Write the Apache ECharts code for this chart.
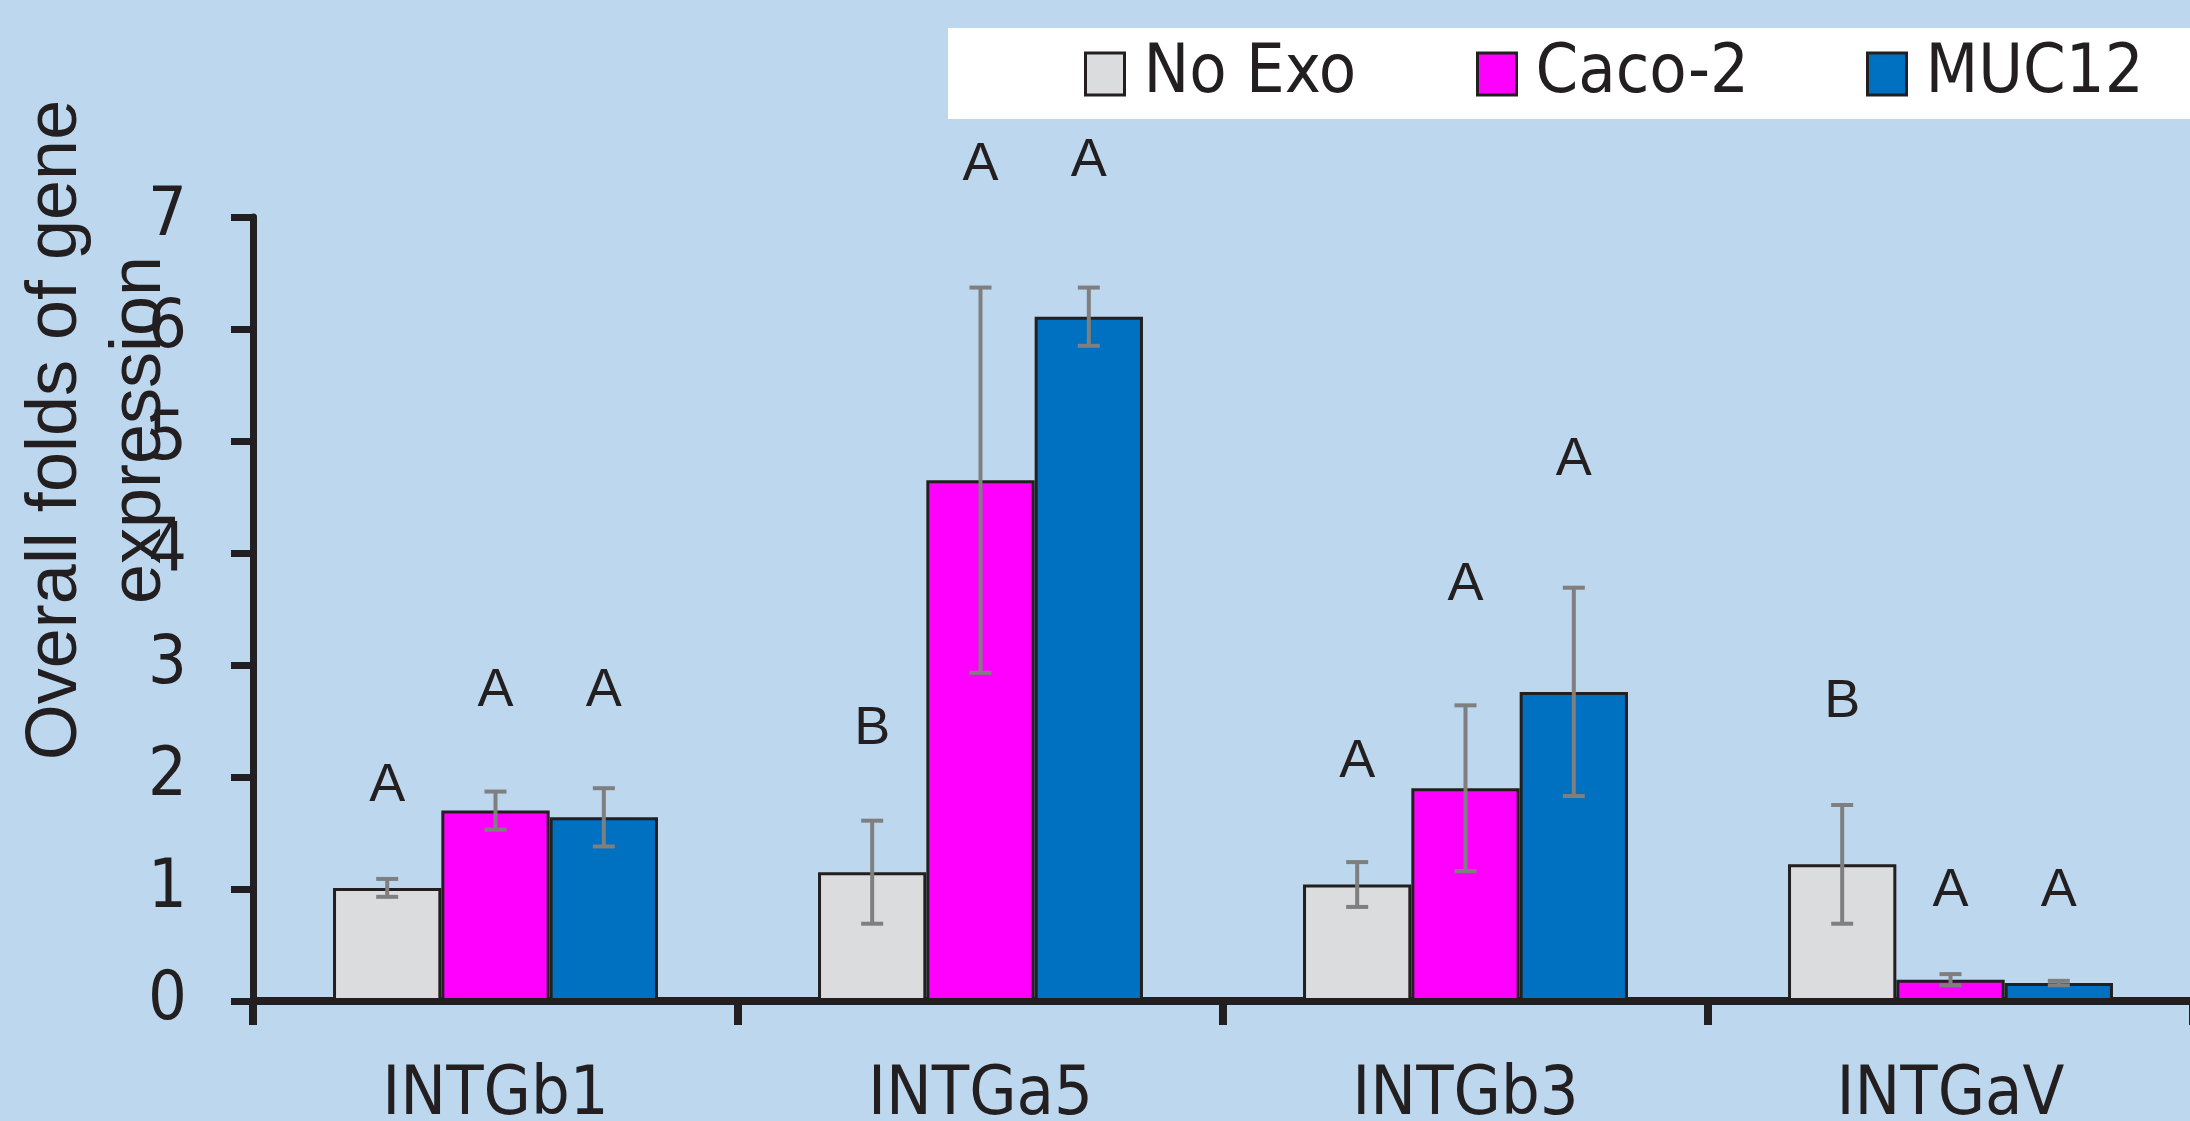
<!DOCTYPE html>
<html>
<head>
<meta charset="utf-8">
<script src="https://cdn.jsdelivr.net/npm/echarts@6/dist/echarts.min.js"></script>
<style>
html,body{margin:0;padding:0;background:#BDD7EE;}
#chart{width:2190px;height:1121px;}
</style>
</head>
<body>
<div id="chart"></div>
<script>
// ---- data ----
const categories = ['INTGb1', 'INTGa5', 'INTGb3', 'INTGaV'];
const seriesNames = ['No Exo', 'Caco-2', 'MUC12'];
const noExo = [1.01, 1.15, 1.04, 1.22];
const caco2 = [1.70, 4.65, 1.90, 0.19];
const muc12 = [1.64, 6.11, 2.76, 0.16];
const noExoErr = [0.08, 0.46, 0.20, 0.53];
const caco2Err = [0.17, 1.72, 0.74, 0.05];
const muc12Err = [0.26, 0.26, 0.93, 0.02];
const noExoLetters = ['A', 'B', 'A', 'B'];
const caco2Letters = ['A', 'A', 'A', 'A'];
const muc12Letters = ['A', 'A', 'A', 'A'];
const noExoLetterLevel = [1.92, 2.43, 2.13, 2.67];
const caco2LetterLevel = [2.77, 7.46, 3.71, 0.98];
const muc12LetterLevel = [2.77, 7.50, 4.83, 0.98];
const yTicks = [0, 1, 2, 3, 4, 5, 6, 7];

const values = [noExo, caco2, muc12];
const errs = [noExoErr, caco2Err, muc12Err];
const letters = [noExoLetters, caco2Letters, muc12Letters];
const levels = [noExoLetterLevel, caco2LetterLevel, muc12LetterLevel];
const colors = ['#DBDCDE', '#FF00FF', '#0070C0'];
const dark = '#231F20';
const narrow = '"Liberation Sans Narrow", "DejaVu Sans Condensed", "Liberation Sans", sans-serif';
const CAT_GAP = 0.33;

const chart = echarts.init(document.getElementById('chart'));

function makeRender(si) {
  return function (params, api) {
    const di = params.dataIndex;
    const cat = api.value(0);
    const mean = api.value(1);
    const err = api.value(2);
    const lvl = api.value(3);
    const band = api.size([1, 0])[0];
    const bw = band * (1 - CAT_GAP) / 3;
    const cx = api.coord([cat, 0])[0] + (si - 1) * bw;
    const yTop = api.coord([cat, mean + err])[1];
    const yBot = api.coord([cat, mean - err])[1];
    const yL = api.coord([cat, lvl])[1];
    const half = 11;
    const st = { stroke: '#7F7F7F', lineWidth: 4 };
    return {
      type: 'group',
      children: [
        { type: 'line', shape: { x1: cx, y1: yTop, x2: cx, y2: yBot }, style: st },
        { type: 'line', shape: { x1: cx - half, y1: yTop, x2: cx + half, y2: yTop }, style: st },
        { type: 'line', shape: { x1: cx - half, y1: yBot, x2: cx + half, y2: yBot }, style: st },
        { type: 'text', x: cx, y: yL, style: {
            text: letters[si][di], fill: dark, font: '54px "Liberation Sans", Arial, sans-serif',
            textAlign: 'center', textVerticalAlign: 'middle' } }
      ]
    };
  };
}

const barSeries = seriesNames.map((n, i) => ({
  name: n,
  type: 'bar',
  data: values[i],
  barGap: '0%',
  barCategoryGap: (CAT_GAP * 100) + '%',
  itemStyle: { color: colors[i], borderColor: dark, borderWidth: 3 }
}));

const errSeries = seriesNames.map((n, i) => ({
  type: 'custom',
  name: n + ' err',
  renderItem: makeRender(i),
  encode: { x: 0, y: 1 },
  z: 5,
  data: categories.map((c, k) => [k, values[i][k], errs[i][k], levels[i][k]])
}));

const legendLefts = [1084, 1476, 1866];
const option = {
  backgroundColor: '#BDD7EE',
  animation: false,
  graphic: [
    { type: 'rect', shape: { x: 948, y: 28, width: 1250, height: 91 }, style: { fill: '#FFFFFF' }, z: -1 },
    { type: 'text', x: 98, y: 430, rotation: Math.PI / 2,
      style: { text: 'Overall folds of gene\nexpression', fill: dark,
        font: '72px "Liberation Sans", Arial, sans-serif', lineHeight: 84,
        textAlign: 'center', textVerticalAlign: 'middle' }, z: 10 }
  ],
  legend: seriesNames.map((n, i) => ({
    data: [n],
    left: legendLefts[i],
    top: 40,
    padding: 0,
    icon: 'rect',
    itemWidth: 39,
    itemHeight: 42,
    itemStyle: { borderColor: dark, borderWidth: 3 },
    textStyle: { fontFamily: narrow, fontSize: 68, lineHeight: 68, color: dark, padding: [0, 0, 0, 14] }
  })),
  grid: { left: 253, top: 217, width: 1940, height: 784, outerBoundsMode: 'none', containLabel: false },
  xAxis: {
    type: 'category',
    data: categories,
    axisLine: { lineStyle: { color: dark, width: 8 } },
    axisTick: { show: true, length: 24, lineStyle: { color: dark, width: 8 } },
    axisLabel: { fontFamily: narrow, fontSize: 68, color: dark, margin: 61 }
  },
  yAxis: {
    type: 'value',
    min: 0, max: 7, interval: 1,
    splitLine: { show: false },
    axisLine: { show: true, lineStyle: { color: dark, width: 7 } },
    axisTick: { show: true, length: 22, lineStyle: { color: dark, width: 7 } },
    axisLabel: { fontFamily: narrow, fontSize: 68, color: dark, margin: 66,
      formatter: v => (yTicks.indexOf(v) >= 0 ? String(v) : '') }
  },
  series: barSeries.concat(errSeries)
};
chart.setOption(option);
</script>
</body>
</html>
